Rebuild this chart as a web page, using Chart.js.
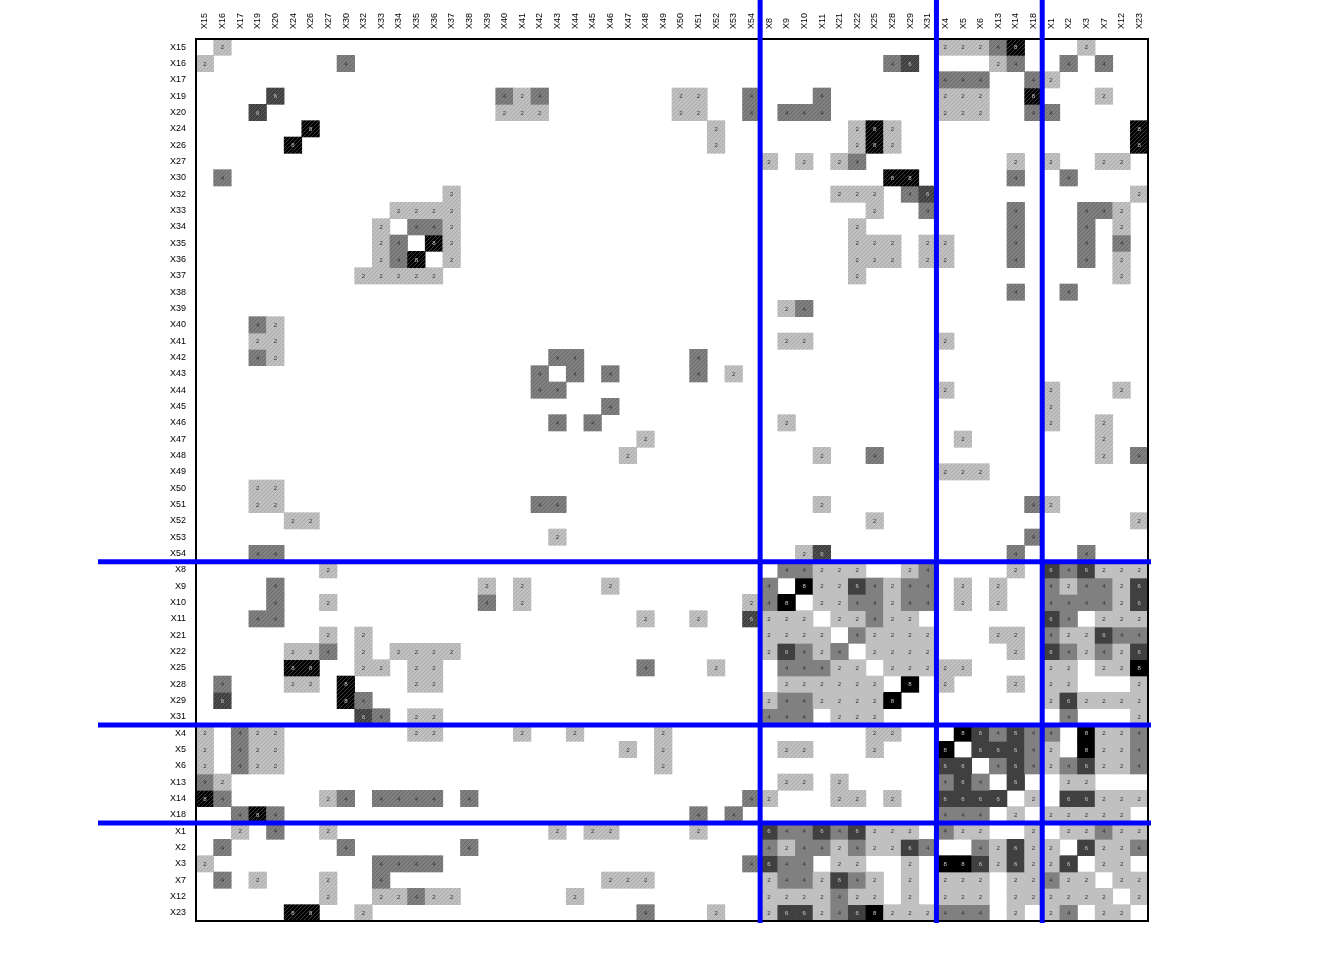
<!DOCTYPE html>
<html><head><meta charset="utf-8">
<script src="https://cdn.jsdelivr.net/npm/chart.js@4/dist/chart.umd.min.js"></script>
<style>html,body{margin:0;padding:0;background:#fff}canvas{display:block}</style>
</head><body>
<canvas id="c" width="1344" height="960"></canvas>
<script>
const colLabels = ['X15','X16','X17','X19','X20','X24','X26','X27','X30','X32','X33','X34','X35','X36','X37','X38','X39','X40','X41','X42','X43','X44','X45','X46','X47','X48','X49','X50','X51','X52','X53','X54','X8','X9','X10','X11','X21','X22','X25','X28','X29','X31','X4','X5','X6','X13','X14','X18','X1','X2','X3','X7','X12','X23'];
const rowLabels = colLabels.slice();
const groupBreaks = [32, 42, 48];
const levelColors = {2:'#c0c0c0', 4:'#808080', 6:'#404040', 8:'#000000'};
const hatchColors = {2:'#acacac', 4:'#6a6a6a', 6:'#5a5a5a', 8:'#3a3a3a'};
const matrixRows = [
"0200 0000 0000 0000 0000 0000 0000 0000 0000000000 222480 002000",
"2000 0000 4000 0000 0000 0000 0000 0000 0000000460 000240 040400",
"0000 0000 0000 0000 0000 0000 0000 0000 0000000000 444004 200000",
"0000 6000 0000 0000 0424 0000 0002 2004 0004000000 222008 000200",
"0006 0000 0000 0000 0222 0000 0002 2004 0444000000 222004 400000",
"0000 0080 0000 0000 0000 0000 0000 0200 0000028200 000000 000008",
"0000 0800 0000 0000 0000 0000 0000 0200 0000028200 000000 000008",
"0000 0000 0000 0000 0000 0000 0000 0000 2020240000 000020 200220",
"0400 0000 0000 0000 0000 0000 0000 0000 0000000880 000040 040000",
"0000 0000 0000 0020 0000 0000 0000 0000 0000222046 000000 000002",
"0000 0000 0002 2220 0000 0000 0000 0000 0000002004 000040 004420",
"0000 0000 0020 4420 0000 0000 0000 0000 0000020000 000040 004020",
"0000 0000 0024 0820 0000 0000 0000 0000 0000022202 200040 004040",
"0000 0000 0024 8020 0000 0000 0000 0000 0000022202 200040 004020",
"0000 0000 0222 2200 0000 0000 0000 0000 0000020000 000000 000020",
"0000 0000 0000 0000 0000 0000 0000 0000 0000000000 000040 040000",
"0000 0000 0000 0000 0000 0000 0000 0000 0240000000 000000 000000",
"0004 2000 0000 0000 0000 0000 0000 0000 0000000000 000000 000000",
"0002 2000 0000 0000 0000 0000 0000 0000 0220000000 200000 000000",
"0004 2000 0000 0000 0000 4400 0000 4000 0000000000 000000 000000",
"0000 0000 0000 0000 0004 0404 0000 4020 0000000000 000000 000000",
"0000 0000 0000 0000 0004 4000 0000 0000 0000000000 200000 200020",
"0000 0000 0000 0000 0000 0004 0000 0000 0000000000 000000 200000",
"0000 0000 0000 0000 0000 4040 0000 0000 0200000000 000000 200200",
"0000 0000 0000 0000 0000 0000 0200 0000 0000000000 020000 000200",
"0000 0000 0000 0000 0000 0000 2000 0000 0002004000 000000 000204",
"0000 0000 0000 0000 0000 0000 0000 0000 0000000000 222000 000000",
"0002 2000 0000 0000 0000 0000 0000 0000 0000000000 000000 000000",
"0002 2000 0000 0000 0004 4000 0000 0000 0002000000 000004 200000",
"0000 0220 0000 0000 0000 0000 0000 0000 0000002000 000000 000002",
"0000 0000 0000 0000 0000 2000 0000 0000 0000000000 000004 000000",
"0004 4000 0000 0000 0000 0000 0000 0000 0026000000 000040 004000",
"0000 0002 0000 0000 0000 0000 0000 0000 0442220024 000020 646222",
"0000 4000 0000 0000 2020 0002 0000 0000 4082264244 020200 424426",
"0000 4002 0000 0000 4020 0000 0000 0002 4802244244 020200 444426",
"0004 4000 0000 0000 0000 0000 0200 2006 2220224220 000000 640222",
"0000 0002 0200 0000 0000 0000 0000 0000 2222042222 000220 422644",
"0000 0224 0202 2220 0000 0000 0000 0000 2642402222 000020 642426",
"0000 0880 0220 2200 0000 0000 0400 0200 0444220222 220000 220228",
"0400 0220 8000 2200 0000 0000 0000 0000 0222222080 200020 220002",
"0600 0000 8400 0000 0000 0000 0000 0000 2442222800 000000 262222",
"0000 0000 0640 2200 0000 0000 0000 0000 4440222000 000000 040002",
"2042 2000 0000 2200 0020 0200 0020 0000 0000002200 086464 408224",
"2042 2000 0000 0000 0000 0000 2020 0000 0220002000 806664 208224",
"2042 2000 0000 0000 0000 0000 0020 0000 0000000000 660464 246224",
"4200 0000 0000 0000 0000 0000 0000 0000 0220200000 464060 022000",
"8400 0002 4044 4404 0000 0000 0000 0004 2000220200 666602 066222",
"0048 4000 0000 0000 0000 0000 0000 4040 0000000000 444020 222220",
"0020 4002 0000 0000 0000 2022 0000 2000 6446462220 422002 022422",
"0400 0000 4000 0004 0000 0000 0000 0000 4244242264 004262 206224",
"2000 0000 0044 4400 0000 0000 0000 0004 6440220020 886262 260220",
"0402 0002 0040 0000 0000 0002 2200 0000 2442642020 222022 422022",
"0000 0002 0022 4220 0000 0200 0000 0000 2222422020 222022 222202",
"0000 0880 0200 0000 0000 0000 0400 0200 2662468222 444020 240220"
];
const values = matrixRows.map(s => s.replace(/ /g,'').split('').map(Number));

function grp(i){ return i < groupBreaks[0] ? 0 : i < groupBreaks[1] ? 1 : i < groupBreaks[2] ? 2 : 3; }
function isSolid(r,c){
  const a = grp(r), b = grp(c);
  if (a === 0 || b === 0) return false;
  if ((a === 1 && b === 2) || (a === 2 && b === 1)) return false;
  return true;
}
const patterns = {};
function hatch(v){
  if (patterns[v]) return patterns[v];
  const pc = document.createElement('canvas'); pc.width = 4; pc.height = 4;
  const g = pc.getContext('2d');
  g.fillStyle = levelColors[v]; g.fillRect(0,0,4,4);
  g.fillStyle = hatchColors[v];
  for (let i = 0; i < 4; i++) g.fillRect(i, 3 - i, 1, 1);
  patterns[v] = g.createPattern(pc, 'repeat');
  return patterns[v];
}
function fillFor(v, r, c){
  if (!v) return 'rgba(0,0,0,0)';
  return isSolid(r,c) ? levelColors[v] : hatch(v);
}

const datasets = values.map((row, r) => ({
  label: rowLabels[r],
  data: row.map(v => v ? [r, r + 1] : null),
  backgroundColor: row.map((v, c) => fillFor(v, r, c)),
  borderWidth: 0,
  grouped: false,
  barPercentage: 1,
  categoryPercentage: 1
}));

const overlay = {
  id: 'overlay',
  afterDatasetsDraw(chart){
    const ctx = chart.ctx;
    ctx.save();
    ctx.font = '6px "Liberation Sans", Arial, sans-serif';
    ctx.textAlign = 'center'; ctx.textBaseline = 'middle';
    chart.data.datasets.forEach((ds, r) => {
      const meta = chart.getDatasetMeta(r);
      meta.data.forEach((el, c) => {
        const v = values[r][c];
        if (!v) return;
        const p = el.getCenterPoint();
        ctx.fillStyle = v >= 6 ? '#c8c8c8' : '#333';
        ctx.fillText(String(v), p.x, p.y + 0.5);
      });
    });
    ctx.restore();
  },
  afterDraw(chart){
    const ctx = chart.ctx, a = chart.chartArea;
    const xs = chart.scales.x, ys = chart.scales.y;
    ctx.save();
    ctx.strokeStyle = '#000'; ctx.lineWidth = 2;
    ctx.strokeRect(a.left, a.top, a.right - a.left, a.bottom - a.top);
    ctx.strokeStyle = '#0000ff'; ctx.lineWidth = 5;
    groupBreaks.forEach(b => {
      const x = (xs.getPixelForValue(b - 1) + xs.getPixelForValue(b)) / 2;
      ctx.beginPath(); ctx.moveTo(x, 0); ctx.lineTo(x, a.bottom + 2); ctx.stroke();
      const y = ys.getPixelForValue(b);
      ctx.beginPath(); ctx.moveTo(98, y); ctx.lineTo(a.right + 3, y); ctx.stroke();
    });
    ctx.restore();
  }
};

new Chart(document.getElementById('c'), {
  type: 'bar',
  data: { labels: colLabels, datasets },
  options: {
    responsive: false,
    animation: false,
    layout: { padding: { left: 0, top: 0, right: 196, bottom: 39 } },
    plugins: { legend: { display: false }, tooltip: { enabled: false } },
    scales: {
      x: {
        type: 'category',
        position: 'top',
        offset: true,
        grid: { display: false, drawTicks: false },
        border: { display: false },
        ticks: { autoSkip: false, minRotation: 90, maxRotation: 90, padding: 10, labelOffset: 11, color: '#000',
                 font: { family: '"Liberation Sans", Arial, sans-serif', size: 9 } },
        afterFit(s){ s.height = 39; }
      },
      y: {
        type: 'linear',
        min: 0, max: rowLabels.length,
        reverse: true,
        grid: { display: false, drawTicks: false },
        border: { display: false },
        afterBuildTicks(s){ s.ticks = rowLabels.map((_, i) => ({ value: i + 0.5 })); },
        ticks: { autoSkip: false, padding: 10, color: '#000',
                 font: { family: '"Liberation Sans", Arial, sans-serif', size: 9 },
                 callback(v){ return rowLabels[Math.floor(v)]; } },
        afterFit(s){ s.width = 196; }
      }
    }
  },
  plugins: [overlay]
});
</script>
</body></html>
